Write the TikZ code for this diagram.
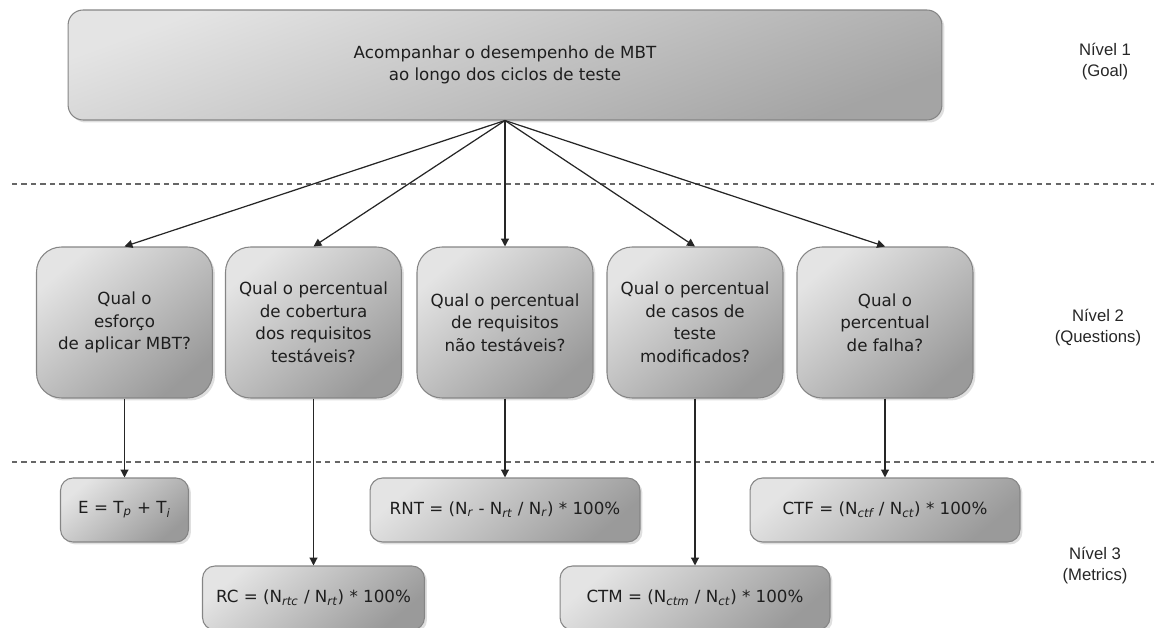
\documentclass[tikz,border=0pt]{standalone}
\usepackage{fontspec}
\setmainfont{DejaVu Sans}
\newfontfamily\levelfont{Liberation Sans}
\usepackage{tikz}
\usetikzlibrary{arrows.meta, positioning, shadows}

\definecolor{boxborder}{HTML}{858585}
\definecolor{boxlight}{HTML}{E4E4E4}
\definecolor{boxdark}{HTML}{9A9A9A}
\definecolor{goaldark}{HTML}{A4A4A4}
\definecolor{txtgray}{HTML}{1E1E1E}
\newcommand{\msub}[1]{\textsubscript{\itshape #1}}

\begin{document}
\begin{tikzpicture}[
    x=0.02cm, y=-0.02cm,
    every node/.style={font=\fontsize{9.5}{12.8}\selectfont, text=txtgray},
    box/.style={draw=boxborder, line width=0.6pt, top color=boxlight, bottom color=boxdark, shading angle=40,
        drop shadow={shadow xshift=0.05cm, shadow yshift=-0.05cm, opacity=0.25}, align=center, inner sep=0pt},
    goalbox/.style={box, bottom color=goaldark, shading angle=20, rounded corners=0.3cm,
        minimum width=17.48cm, minimum height=2.2cm},
    questbox/.style={box, rounded corners=0.5cm, minimum width=3.52cm, minimum height=3.02cm},
    metricbox/.style={box, rounded corners=0.25cm, minimum height=1.28cm},
    level/.style={font=\levelfont\fontsize{9.5}{11.9}\selectfont, align=center, text=black!85},
    sep/.style={line width=1pt, black!60, dash pattern=on 3pt off 2.4pt},
    link/.style={-{Triangle[length=4.5pt, width=4.5pt]}, line width=0.7pt, black!85}
]
    \useasboundingbox (0,0) rectangle (1154,628);

    % separadores
    \draw[sep] (12,184) -- (1154,184);
    \draw[sep] (12,462) -- (1154,462);

    % nivel 1
    \node[goalbox] (goal) at (505,65) {Acompanhar o desempenho de MBT\\ao longo dos ciclos de teste};

    % nivel 2
    \node[questbox] (q1) at (124.5,322.5) {Qual o\\esforço\\de aplicar MBT?};
    \node[questbox] (q2) at (313.5,322.5) {Qual o percentual\\de cobertura\\dos requisitos\\testáveis?};
    \node[questbox] (q3) at (505,322.5) {Qual o percentual\\de requisitos\\não testáveis?};
    \node[questbox] (q4) at (695,322.5) {Qual o percentual\\de casos de\\teste\\modificados?};
    \node[questbox] (q5) at (885,322.5) {Qual o\\percentual\\de falha?};

    % nivel 3
    \node[metricbox, minimum width=2.56cm] (m1) at (124.5,510) {E = T\msub{p} + T\msub{i}};
    \node[metricbox, minimum width=4.44cm] (m2) at (313.5,598) {RC = (N\msub{rtc} / N\msub{rt}) * 100\%};
    \node[metricbox, minimum width=5.4cm] (m3) at (505,510) {RNT = (N\msub{r} - N\msub{rt} / N\msub{r}) * 100\%};
    \node[metricbox, minimum width=5.4cm] (m4) at (695,598) {CTM = (N\msub{ctm} / N\msub{ct}) * 100\%};
    \node[metricbox, minimum width=5.4cm] (m5) at (885,510) {CTF = (N\msub{ctf} / N\msub{ct}) * 100\%};

    \foreach \i in {1,...,5} {
        \draw[link] (goal.south) -- (q\i.north);
        \draw[link] (q\i.south) -- (m\i.north);
    }

    \node[level] (l1) at (1105,62) {Nível 1\\(Goal)};
    \node[level] (l2) at (1098,328) {Nível 2\\(Questions)};
    \node[level] (l3) at (1095,566) {Nível 3\\(Metrics)};
\end{tikzpicture}
\end{document}
